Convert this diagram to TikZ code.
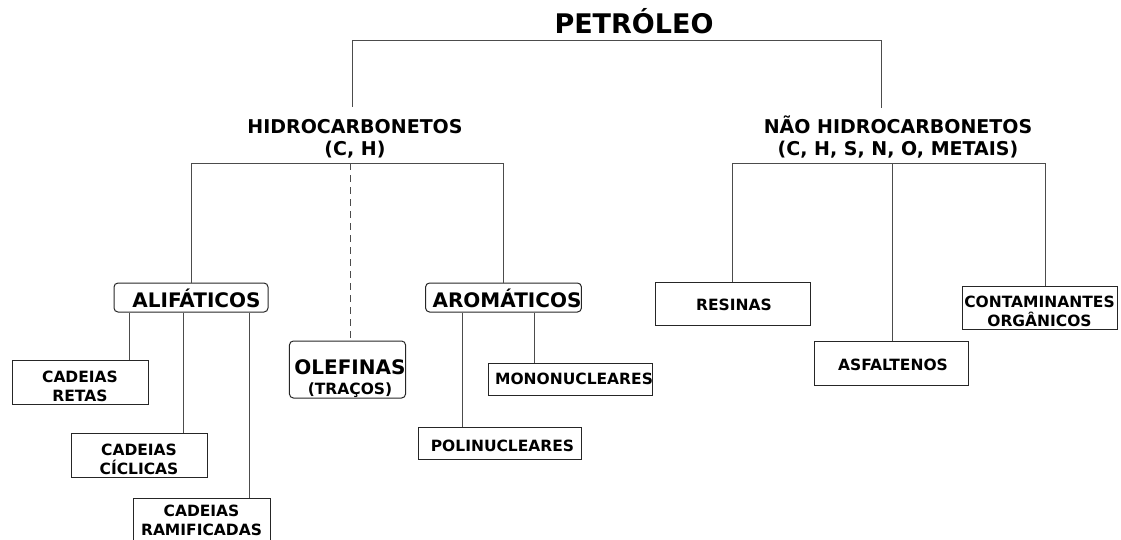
\documentclass[tikz,border=0pt]{standalone}
\usepackage{fontspec}
\setmainfont{DejaVu Sans}
\begin{document}
\begin{tikzpicture}[x=1pt,y=-1pt,
  link/.style={draw=black!70, line width=1pt},
  olink/.style={link, dash pattern=on 7pt off 5pt},
  box/.style={draw=black!85, line width=1pt, inner sep=0pt, align=center,
    font=\fontsize{15.5}{19}\selectfont\bfseries},
  rbox/.style={box, rounded corners=4pt, font=\fontsize{20}{20.5}\selectfont\bfseries},
  head/.style={align=center, inner sep=0pt, font=\fontsize{19}{22}\selectfont\bfseries},
]
\useasboundingbox (0,0) rectangle (1121,539);

% titles
\node[inner sep=0pt, font=\fontsize{27}{30}\selectfont\bfseries,
      text height=25pt, text depth=7pt] (petro) at (634,24) {PETRÓLEO};
\node[head, text height=48pt, text depth=8pt] (hc) at (355,135) {HIDROCARBONETOS\\(C, H)};
\node[head, text height=47pt, text depth=8.5pt] (nhc) at (898,135.75) {NÃO HIDROCARBONETOS\\(C, H, S, N, O, METAIS)};

% hydrocarbon classes
\node[rbox, minimum width=154pt, text height=24pt, text depth=5pt] (ali) at (191,297.5) {\hspace*{11pt}ALIFÁTICOS};
\node[rbox, minimum width=153pt, text height=24pt, text depth=5pt] (aro) at (503.5,297.5) {\hspace*{7pt}AROMÁTICOS};
\node[rbox, minimum width=109pt, text height=53.5pt, text depth=3.5pt] (ole) at (347.5,369.5)
  {\hspace*{5pt}OLEFINAS\\\hspace*{5pt}{\fontsize{15.5}{19}\selectfont (TRAÇOS)}};

% aliphatic chains
\node[box, minimum width=136pt, text height=41pt, text depth=3pt] (retas) at (80,382) {CADEIAS\\RETAS};
\node[box, minimum width=136pt, text height=41.7pt, text depth=2.3pt] (ciclicas) at (139,455) {CADEIAS\\CÍCLICAS};
\node[box, minimum width=137pt, text height=37.5pt, text depth=7.5pt] (ramif) at (201.5,520.5) {CADEIAS\\RAMIFICADAS};

% aromatic
\node[box, minimum width=163pt, text height=21pt, text depth=11pt] (mono) at (570.5,379) {\hspace*{7pt}MONONUCLEARES};
\node[box, minimum width=163pt, text height=24.7pt, text depth=7.3pt] (poli) at (499.5,443) {\hspace*{6pt}POLINUCLEARES};

% non hydrocarbons
\node[box, minimum width=155pt, text height=28.7pt, text depth=14.3pt] (res) at (732.5,303.5) {\hspace*{3pt}RESINAS};
\node[box, minimum width=154pt, text height=29.7pt, text depth=14.3pt] (asf) at (891,363) {\hspace*{4pt}ASFALTENOS};
\node[box, minimum width=155pt, text height=40pt, text depth=3pt] (cont) at (1039.5,307.5) {CONTAMINANTES\\ORGÂNICOS};

% connectors
\draw[link] ([xshift=-3pt]hc.north) |- (petro.south) -| ([xshift=-17pt]nhc.north);

\draw[link] (ali.north) |- (hc.south) -| (aro.north);
\coordinate (hb) at ([xshift=-5pt]hc.south);
\draw[olink] (hb) -- (hb |- ole.north);

\coordinate (nb) at ([xshift=-6pt]nhc.south);
\draw[link] (res.north) |- (nb) -| ([xshift=5.5pt]cont.north);
\draw[link] (nb) -- (nb |- asf.north);

\coordinate (a1) at ([xshift=-62pt]ali.south);
\coordinate (a2) at ([xshift=-8pt]ali.south);
\coordinate (a3) at ([xshift=58pt]ali.south);
\draw[link] (a1) -- (a1 |- retas.north);
\draw[link] (a2) -- (a2 |- ciclicas.north);
\draw[link] (a3) -- (a3 |- ramif.north);

\coordinate (r1) at ([xshift=-41.5pt]aro.south);
\coordinate (r2) at ([xshift=30.5pt]aro.south);
\draw[link] (r1) -- (r1 |- poli.north);
\draw[link] (r2) -- (r2 |- mono.north);
\end{tikzpicture}
\end{document}
